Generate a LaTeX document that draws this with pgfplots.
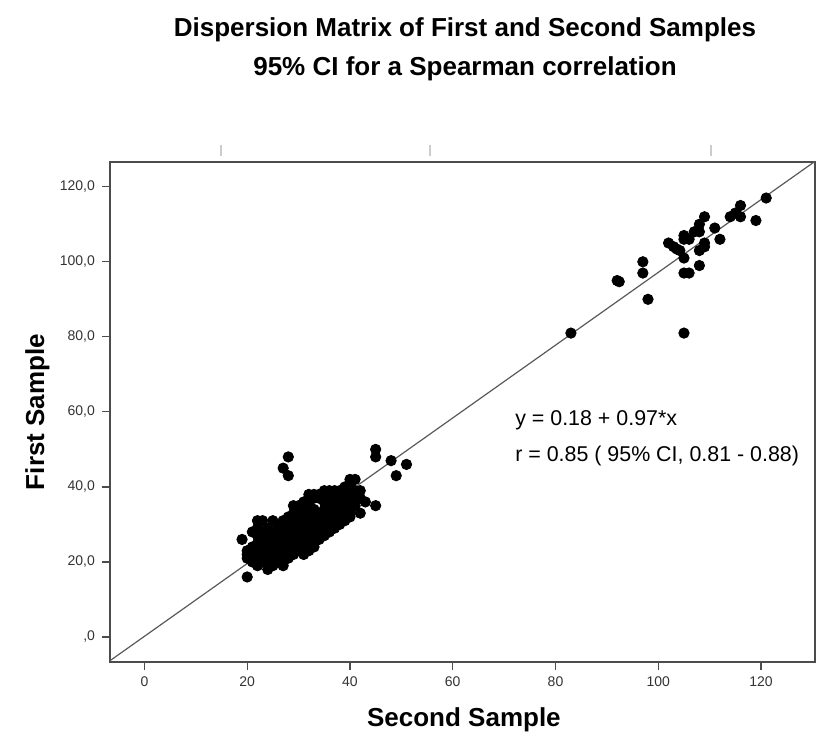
\documentclass[border=0pt]{standalone}
\usepackage{fontspec}
\setmainfont{Liberation Sans}
\usepackage{pgfplots}
\usepackage{pgfplotstable}
\pgfplotsset{compat=1.18}

\pgfplotstableread{
x y
83 81
92 95
92.4 94.7
97 100
97 97
98 90
105 81
105 97
106 97
108 99
105 101
102 105
103 104
103.6 103.4
104.2 103
105 106
105 107
106 106
107 108
108 108
108 110
109 112
109 105
109 104
108 103
111 109
112 106
114 112
115 113
116 115
116 112
119 111
121 117
}\updata

\pgfplotstableread{
x y
28 48
27 45
28 43
45 50
45 48
48 47
51 46
49 43
45 35
42 33
43 36
20 16
19 26
40 42
41 42
20 21
20 22
20 23
21 20
21 22
21 24
21 28
22 19
22 21
22 23
22 25
22 27
22 29
22 31
23 20
23 22
23 24
23 26
23 28
23 31
24 18
24 20
24 21
24 23
24 25
24 26
24 27
24 29
25 19
25 21
25 22
25 24
25 25
25 27
25 28
25 31
26 20
26 22
26 23
26 25
26 26
26 27
26 29
26 30
27 19
27 21
27 23
27 24
27 26
27 27
27 28
27 30
27 31
28 21
28 22
28 24
28 25
28 26
28 28
28 29
28 30
28 32
29 22
29 23
29 25
29 27
29 28
29 29
29 31
29 33
29 35
30 23
30 24
30 26
30 27
30 29
30 30
30 32
30 33
30 35
31 22
31 24
31 25
31 27
31 28
31 30
31 31
31 33
31 35
31 36
32 23
32 25
32 26
32 28
32 29
32 31
32 32
32 34
32 36
32 38
33 24
33 26
33 27
33 29
33 30
33 32
33 34
33 37
33 38
34 26
34 27
34 28
34 30
34 31
34 33
34 37
34 38
35 27
35 28
35 29
35 31
35 32
35 34
35 36
35 38
35 39
36 28
36 29
36 30
36 32
36 33
36 35
36 37
36 39
37 29
37 30
37 31
37 33
37 34
37 36
37 38
37 39
38 30
38 31
38 32
38 34
38 36
38 37
38 39
39 31
39 33
39 35
39 37
39 38
39 40
40 32
40 33
40 34
40 36
40 38
40 40
41 35
41 37
41 39
42 37
42 39
}\lowdata

\begin{document}
\begin{tikzpicture}
\useasboundingbox (-55pt,-35.5pt) rectangle (353pt,331pt);
\begin{axis}[
  at={(0,0)}, anchor=south west,
  scale only axis, width=352.5pt, height=250pt,
  xmin=-6.7, xmax=130.5, ymin=-6.66, ymax=126.6,
  xtick={0,20,...,120}, ytick={0,20,...,120},
  yticklabels={{,0},{20,0},{40,0},{60,0},{80,0},{100,0},{120,0}},
  tick align=outside, xtick pos=bottom, ytick pos=left,
  major tick length=4pt,
  axis line style={draw=black!70, line width=0.6pt},
  major tick style={draw=black!70, line width=0.6pt},
  tick label style={font=\fontsize{7}{8}\selectfont, text=black!80},
  /pgf/number format/assume math mode=true,
  xlabel={Second Sample}, ylabel={First Sample},
  label style={font=\fontsize{13}{15}\selectfont\bfseries},
  xlabel style={at={(axis description cs:0.502,-0.116)}, anchor=center},
  ylabel style={at={(axis description cs:-0.103,0.5)}, anchor=center, rotate=0},
]
\addplot[black!65, line width=0.6pt] coordinates {(-7,-6.61) (131,127.25)};
\addplot[only marks, mark=*, mark size=2.6pt, black] table {\lowdata};
\addplot[only marks, mark=*, mark size=2.6pt, black] table {\updata};
\node[anchor=west, font=\fontsize{10.7}{13}\selectfont] at (axis cs:70.8,57.7) {y = 0.18 + 0.97*x};
\node[anchor=west, font=\fontsize{10.7}{13}\selectfont] at (axis cs:70.8,48.2) {r = 0.85 ( 95\% CI, 0.81 - 0.88)};
\end{axis}
\draw[black!20, line width=0.6pt] (55.5pt,253pt) -- (55.5pt,258.5pt);
\draw[black!20, line width=0.6pt] (160pt,253pt) -- (160pt,258.5pt);
\draw[black!20, line width=0.6pt] (300.5pt,253pt) -- (300.5pt,258.5pt);
\node[font=\fontsize{13}{15}\selectfont\bfseries] at (177.5pt,316pt) {Dispersion Matrix of First and Second Samples};
\node[font=\fontsize{13}{15}\selectfont\bfseries] at (177.5pt,296.5pt) {95\% CI for a Spearman correlation};
\end{tikzpicture}
\end{document}
